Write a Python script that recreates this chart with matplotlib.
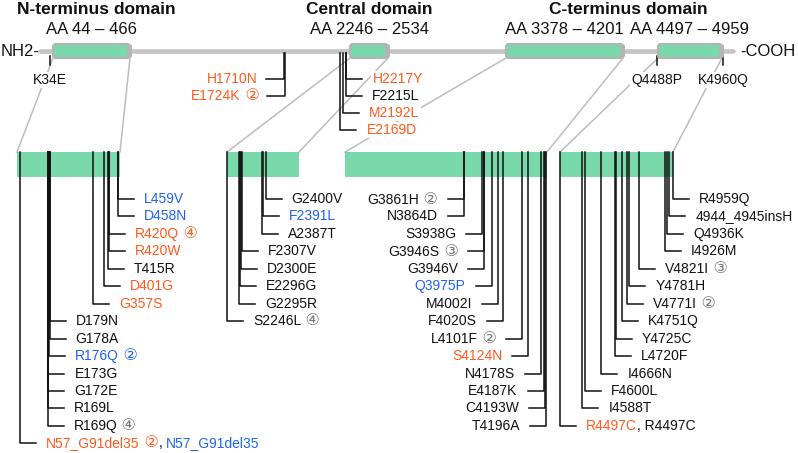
import numpy as np
import matplotlib.pyplot as plt
from matplotlib.patches import FancyBboxPatch, Rectangle

plt.rcParams['font.family'] = ['Liberation Sans', 'DejaVu Sans']

COLORS = {'k': '#111111', 'o': '#ff5a1e', 'b': '#1f63f5', 'g': '#777777'}
GREEN = '#79d9aa'
BAR_GRAY = '#c4c4c4'
EDGE_GRAY = '#b4b4b4'
CIRCLED = {2: '\u2461', 3: '\u2462', 4: '\u2463'}

# ---- protein overview ----
protein_length = 4967
domain_starts = [44, 2246, 3378, 4497]
domain_ends = [466, 2534, 4201, 4959]
domain_titles = ['N-terminus domain', 'Central domain', 'C-terminus domain']

# mutations on the overview bar
below_names = ['K34E', 'Q4488P', 'K4960Q']
below_pos = [34, 4488, 4960]
left_names = ['H1710N', 'E1724K']
left_pos = [1710, 1724]
left_colors = ['o', 'o']
left_counts = [0, 2]
right_names = ['H2217Y', 'F2215L', 'M2192L', 'E2169D']
right_pos = [2217, 2215, 2192, 2169]
right_colors = ['o', 'k', 'o', 'o']
right_counts = [0, 0, 0, 0]

# ---- domain panels (rows listed top to bottom) ----
n_names = ['L459V', 'D458N', 'R420Q', 'R420W', 'T415R', 'D401G', 'G357S', 'D179N',
           'G178A', 'R176Q', 'E173G', 'G172E', 'R169L', 'R169Q', 'N57_G91del35']
n_pos = [459, 458, 420, 420, 415, 401, 357, 179, 178, 176, 173, 172, 169, 169, 57]
n_colors = ['b', 'b', 'o', 'o', 'k', 'o', 'o', 'k', 'k', 'b', 'k', 'k', 'k', 'k', 'o']
n_counts = [0, 0, 4, 0, 0, 0, 0, 0, 0, 2, 0, 0, 0, 4, 2]
n_extra = {14: [(', ', 'k'), ('N57_G91del35', 'b')]}

c_names = ['G2400V', 'F2391L', 'A2387T', 'F2307V', 'D2300E', 'E2296G', 'G2295R', 'S2246L']
c_pos = [2400, 2391, 2387, 2307, 2300, 2296, 2295, 2246]
c_colors = ['k', 'b', 'k', 'k', 'k', 'k', 'k', 'k']
c_counts = [0, 0, 0, 0, 0, 0, 0, 4]
c_extra = {}

ca_names = ['G3861H', 'N3864D', 'S3938G', 'G3946S', 'G3946V', 'Q3975P', 'M4002I',
            'F4020S', 'L4101F', 'S4124N', 'N4178S', 'E4187K', 'C4193W', 'T4196A']
ca_pos = [3861, 3864, 3938, 3946, 3946, 3975, 4002, 4020, 4101, 4124, 4178, 4187, 4193, 4196]
ca_colors = ['k', 'k', 'k', 'k', 'k', 'b', 'k', 'k', 'k', 'o', 'k', 'k', 'k', 'k']
ca_counts = [2, 0, 0, 3, 0, 0, 0, 0, 2, 0, 0, 0, 0, 0]
ca_extra = {}

cb_names = ['R4959Q', '4944_4945insH', 'Q4936K', 'I4926M', 'V4821I', 'Y4781H', 'V4771I',
            'K4751Q', 'Y4725C', 'L4720F', 'I4666N', 'F4600L', 'I4588T', 'R4497C']
cb_pos = [4959, 4944, 4936, 4926, 4821, 4781, 4771, 4751, 4725, 4720, 4666, 4600, 4588, 4497]
cb_colors = ['k'] * 13 + ['o']
cb_counts = [0, 0, 0, 0, 3, 0, 2, 0, 0, 0, 0, 0, 0, 0]
cb_extra = {13: [(', R4497C', 'k')]}

# ---- layout ----
bar_y = 51
top_aa = [1] + [v for pair in zip(domain_starts, domain_ends) for v in pair] + [protein_length]
top_px = [40, 53, 130, 350, 388, 506, 623, 658, 722, 733]
panel_left = [17, 227, 345, 560]
panel_right = [120, 299, 547, 673]
panel_side = ['right', 'right', 'left', 'right']
panel_top, panel_bot = 152, 177
row_y0, row_dy = 199, 17.45
tick_len, text_gap = 16, 26
FS = 10


def top_x(aa):
    return np.interp(aa, top_aa, top_px)


fig = plt.figure(figsize=(7.98, 4.53), dpi=100)
ax = fig.add_axes([0, 0, 1, 1])
ax.set_xlim(0, 798)
ax.set_ylim(453, 0)
ax.axis('off')


def label(x, y, name, color, count, extra, side, bg=False):
    segs = [(name, color, FS)]
    if count:
        segs.append((' ' + CIRCLED[count], 'g' if color == 'k' else color, FS + 1.5))
    segs += [(s, c, FS) for s, c in extra]
    box = dict(fc='white', ec='none', pad=1) if bg else None
    if side == 'right':
        t = ax.text(x, y, segs[0][0], color=COLORS[segs[0][1]], ha='left', va='center',
                    fontsize=FS, zorder=5, bbox=box)
        for s, c, f in segs[1:]:
            t = ax.annotate(s, xy=(1, 0), xycoords=t, ha='left', va='bottom',
                            color=COLORS[c], fontsize=f, zorder=5)
    else:
        segs = segs[::-1]
        t = ax.text(x, y, segs[0][0], color=COLORS[segs[0][1]], ha='right', va='center',
                    fontsize=segs[0][2], zorder=5, bbox=box)
        for s, c, f in segs[1:]:
            t = ax.annotate(s, xy=(0, 0), xycoords=t, ha='right', va='bottom',
                            color=COLORS[c], fontsize=f, zorder=5, bbox=box)


# overview bar
ax.plot([top_x(1), top_x(protein_length)], [bar_y, bar_y], color=BAR_GRAY, lw=3.3,
        solid_capstyle='round', zorder=1)
for s, e in zip(domain_starts, domain_ends):
    x0, x1 = top_x(s), top_x(e)
    ax.add_patch(FancyBboxPatch((x0, bar_y - 7), x1 - x0, 14,
                                boxstyle='round,pad=0,rounding_size=3',
                                fc=GREEN, ec=EDGE_GRAY, lw=1.6, zorder=3))
    ax.add_patch(FancyBboxPatch((x1 - 3, bar_y - 7), 5, 14,
                                boxstyle='round,pad=0,rounding_size=2.5',
                                fc=EDGE_GRAY, ec='none', zorder=3))
    ax.text((x0 + x1) / 2, 30, f'AA {s} \u2013 {e}', ha='center', va='center',
            fontsize=12, color='#111111')

ax.text(40, bar_y, 'NH2-', ha='right', va='center', fontsize=12, color='#111111')
ax.text(740, bar_y, '-COOH', ha='left', va='center', fontsize=12, color='#111111')

title_x = [top_x(np.mean([domain_starts[0], domain_ends[0]])) + 5,
           top_x(np.mean([domain_starts[1], domain_ends[1]])),
           (top_x(np.mean([domain_starts[2], domain_ends[2]])) +
            top_x(np.mean([domain_starts[3], domain_ends[3]]))) / 2 + 1]
for tx, title in zip(title_x, domain_titles):
    ax.text(tx, 9, title, ha='center', va='center', fontsize=12.5, fontweight='bold',
            color='#111111')

# overview mutations
for name, p in zip(below_names, below_pos):
    x = top_x(p)
    ax.plot([x, x], [bar_y + 5, bar_y + 14], color='#111111', lw=1.1, zorder=2)
    label(x, 80, name, 'k', 0, [], 'right', bg=True)
    ax.texts[-1].set_ha('center')

for i, (name, p, c, n) in enumerate(zip(left_names, left_pos, left_colors, left_counts)):
    x, y = top_x(p), 79 + 17 * i
    ax.plot([x, x, x - tick_len - 2], [bar_y + 2, y, y], color='#111111', lw=1.1, zorder=2)
    label(x - text_gap, y, name, c, n, [], 'left', bg=True)

for i, (name, p, c, n) in enumerate(zip(right_names, right_pos, right_colors, right_counts)):
    x, y = top_x(p), 79 + 17 * i
    ax.plot([x, x, x + tick_len], [bar_y + 2, y, y], color='#111111', lw=1.1, zorder=2)
    label(x + text_gap, y, name, c, n, [], 'right', bg=True)

# panels
panels = [(n_names, n_pos, n_colors, n_counts, n_extra),
          (c_names, c_pos, c_colors, c_counts, c_extra),
          (ca_names, ca_pos, ca_colors, ca_counts, ca_extra),
          (cb_names, cb_pos, cb_colors, cb_counts, cb_extra)]

for k, (names, pos, cols, counts, extra) in enumerate(panels):
    xl, xr = panel_left[k], panel_right[k]
    s, e = domain_starts[k], domain_ends[k]
    # connectors from the overview domain to the panel
    ax.plot([top_x(s), xl], [bar_y + 7, panel_top], color='#bdbdbd', lw=1.1, zorder=1)
    ax.plot([top_x(e), xr], [bar_y + 7, panel_top], color='#bdbdbd', lw=1.1, zorder=1)
    ax.add_patch(Rectangle((xl, panel_top), xr - xl, panel_bot - panel_top,
                           fc=GREEN, ec='none', zorder=2))
    side = panel_side[k]
    sign = 1 if side == 'right' else -1
    for i, (name, p, c, n) in enumerate(zip(names, pos, cols, counts)):
        x = np.interp(p, [s, e], [xl, xr])
        y = row_y0 + row_dy * i
        ax.plot([x, x, x + sign * tick_len], [panel_top, y, y], color='#111111',
                lw=1.1, zorder=3)
        label(x + sign * text_gap, y, name, c, n, extra.get(i, []), side)

fig.savefig('out.png', dpi=100)
